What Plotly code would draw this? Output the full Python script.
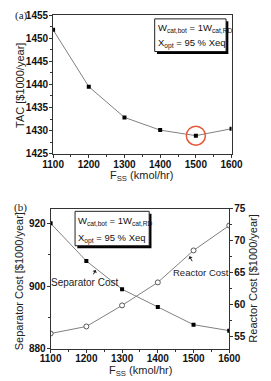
import plotly.graph_objects as go

# ---- data ----
fss = [1100, 1200, 1300, 1400, 1500, 1600]
tac = [1451.8, 1439.5, 1432.85, 1430.1, 1428.9, 1430.4]
separator_cost = [920.0, 908.0, 899.0, 893.3, 887.7, 885.8]
reactor_cost = [55.5, 56.6, 59.9, 63.5, 68.5, 72.4]
opt_fss = [1500]
opt_tac = [1428.9]

W, H = 271, 381
def px(x):
    return x / W
def py(y):
    return 1 - y / H

LINE = "#808080"
AXC = "#333333"
FONT = "Liberation Sans"
tickfont = dict(family=FONT, size=10, color="#111111", weight=700)

fig = go.Figure()

# top panel
fig.add_trace(go.Scatter(x=fss, y=tac, mode="lines+markers",
                         line=dict(color=LINE, width=1),
                         marker=dict(symbol="square", size=4, color="black"),
                         xaxis="x", yaxis="y", showlegend=False))
fig.add_trace(go.Scatter(x=opt_fss, y=opt_tac, mode="markers",
                         marker=dict(symbol="circle-open", size=19,
                                     line=dict(color="#e5583a", width=1.5), color="#e5583a"),
                         xaxis="x", yaxis="y", showlegend=False))
# bottom panel
fig.add_trace(go.Scatter(x=fss, y=separator_cost, mode="lines+markers",
                         line=dict(color=LINE, width=1),
                         marker=dict(symbol="square", size=4, color="black"),
                         xaxis="x2", yaxis="y2", showlegend=False))
fig.add_trace(go.Scatter(x=fss, y=reactor_cost, mode="lines+markers",
                         line=dict(color=LINE, width=1),
                         marker=dict(symbol="circle", size=5, color="white",
                                     line=dict(color="#555555", width=1)),
                         xaxis="x2", yaxis="y3", showlegend=False))

axis_common = dict(showline=True, linecolor=AXC, linewidth=1, ticks="outside",
                   ticklen=3, tickcolor=AXC, showgrid=False, zeroline=False,
                   tickfont=tickfont)

fig.update_layout(
    width=W, height=H, margin=dict(l=0, r=0, t=0, b=0),
    paper_bgcolor="white", plot_bgcolor="white",
    xaxis=dict(domain=[px(46), px(241)], range=[1100, 1600], dtick=100,
               anchor="y", mirror=True, ticklabelstandoff=-2, **axis_common,
               minor=dict(ticks="outside", ticklen=2, dtick=50, tickcolor=AXC)),
    yaxis=dict(domain=[py(152.5), py(9.3)], range=[1425, 1455], dtick=5,
               anchor="x", mirror=True, ticklabelstandoff=-1, **axis_common,
               minor=dict(ticks="outside", ticklen=2, dtick=2.5, tickcolor=AXC)),
    xaxis2=dict(domain=[px(43.3), px(238.5)], range=[1100, 1600], dtick=100,
                anchor="y2", mirror=True, ticklabelstandoff=-3, **axis_common,
                minor=dict(ticks="outside", ticklen=2, dtick=50, tickcolor=AXC)),
    yaxis2=dict(domain=[py(354), py(209.5)], range=[880, 924.6], tickvals=[880, 900, 920],
                anchor="x2", ticklabelstandoff=-1, **axis_common,
                minor=dict(ticks="outside", ticklen=2, tickvals=[890, 910], tickcolor=AXC)),
    yaxis3=dict(domain=[py(354), py(209.5)], range=[53.1, 75], dtick=5,
                anchor="x2", overlaying="y2", side="right", ticklabelstandoff=-1, **axis_common,
                minor=dict(ticks="outside", ticklen=2, dtick=2.5, tickcolor=AXC)),
)

titlefont = dict(family=FONT, size=11, color="#222222")
ann = []
ann.append(dict(text="TAC [$1000/year]", x=px(10.5), y=py(82), textangle=-90, font=titlefont))
ann.append(dict(text="F<sub>SS</sub> (kmol/hr)", x=px(143), y=py(176), font=titlefont))
ann.append(dict(text="Separator Cost [$1000/year]", x=px(9), y=py(284), textangle=-90, font=titlefont))
ann.append(dict(text="Reactor Cost [$1000/year]", x=px(265), y=py(282), textangle=-90, font=titlefont))
ann.append(dict(text="F<sub>SS</sub> (kmol/hr)", x=px(141), y=py(377), font=titlefont))
serif = dict(family="Liberation Serif", size=11, color="#222222")
ann.append(dict(text="(a)", x=px(12), y=py(9.5), font=serif))
ann.append(dict(text="(b)", x=px(10), y=py(208), font=serif))
boxfont = dict(family=FONT, size=9.5, color="#111111")
for (x0, y1, y2) in [(158.5, 22.5, 38.5), (71.5, 222.5, 240)]:
    ann.append(dict(text="W<sub>cat,bot</sub> = 1W<sub>cat,RD</sub>", x=px(x0), y=py(y1),
                    xanchor="left", font=boxfont))
    ann.append(dict(text="X<sub>opt</sub> = 95 % Xeq", x=px(x0), y=py(y2),
                    xanchor="left", font=boxfont))
lblfont = dict(family=FONT, size=10, color="#222222")
ann.append(dict(text="Separator Cost", x=px(80), y=py(285), font=lblfont))
ann.append(dict(text="Reactor Cost", x=px(208), y=py(275),
                font=dict(family=FONT, size=9.5, color="#222222")))
for a in ann:
    a.setdefault("xanchor", "center")
    a.update(xref="paper", yref="paper", yanchor="middle", showarrow=False)
# arrows
ann.append(dict(x=px(92.5), y=py(272.5), ax=-3, ay=6, xref="paper", yref="paper",
                text="", showarrow=True, arrowhead=1, arrowsize=0.8, arrowwidth=1,
                arrowcolor="#222222"))
ann.append(dict(x=px(195), y=py(258.3), ax=3.5, ay=6.5, xref="paper", yref="paper",
                text="", showarrow=True, arrowhead=1, arrowsize=0.8, arrowwidth=1,
                arrowcolor="#222222"))
fig.update_layout(annotations=ann)

shapes = []
for (x0, y0, x1, y1) in [(157, 13.3, 235, 47), (70, 212, 151, 247.5)]:
    shapes.append(dict(type="rect", xref="paper", yref="paper",
                       x0=px(x0 + 2.5), x1=px(x1 + 2.5), y0=py(y1 + 2.5), y1=py(y0 + 2.5),
                       fillcolor="black", line=dict(width=0), layer="above"))
    shapes.append(dict(type="rect", xref="paper", yref="paper",
                       x0=px(x0), x1=px(x1), y0=py(y1), y1=py(y0),
                       fillcolor="white", line=dict(color="#222222", width=1), layer="above"))
fig.update_layout(shapes=shapes)

fig.write_html("out.html")
